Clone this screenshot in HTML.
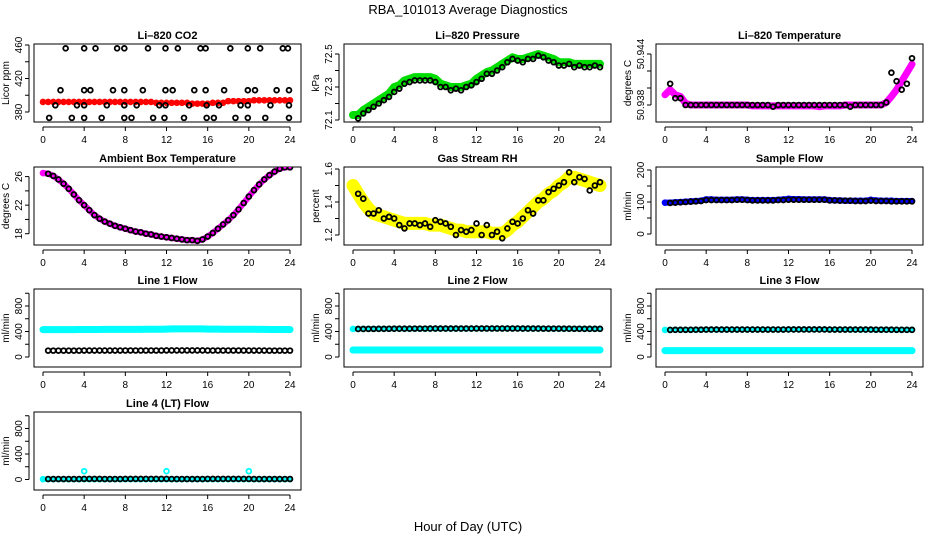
<!DOCTYPE html>
<html><head><meta charset="utf-8">
<style>
html,body{margin:0;padding:0;background:#fff;}
svg{display:block;font-family:"Liberation Sans",Arial,sans-serif;}
</style></head>
<body>
<svg id="chart" width="936" height="540" viewBox="0 0 936 540" xmlns="http://www.w3.org/2000/svg">
<text x="468" y="14" text-anchor="middle" font-size="13">RBA_101013  Average Diagnostics</text>
<text x="468" y="531" text-anchor="middle" font-size="13">Hour of Day (UTC)</text>
</svg>
<script>
// shared time grid: 0..24 step 0.5 (49 points)
const hours = [0,0.5,1,1.5,2,2.5,3,3.5,4,4.5,5,5.5,6,6.5,7,7.5,8,8.5,9,9.5,10,10.5,11,11.5,12,12.5,13,13.5,14,14.5,15,15.5,16,16.5,17,17.5,18,18.5,19,19.5,20,20.5,21,21.5,22,22.5,23,23.5,24];
const xTicks = [0,4,8,12,16,20,24];

// CO2
const co2Red = [392,392,392,392,392,392,392,392,392,392,392,392,392,392,392,392,392,392,392,392,392,392,391,391,391,391,391,391,391,390,390,390,390,391,391,391,393,393,393,393,393,394,394,394,394,394,394,394,394];
const co2Hours = [2.2,4.0,5.1,7.2,7.9,10.2,11.9,13.1,15.3,15.8,18.2,19.9,21.1,23.3,23.8, 1.7,4.0,4.6,6.8,7.9,9.7,11.9,12.6,14.7,15.8,17.6,19.9,20.6,22.7,23.9, 1.2,3.3,4.0,6.2,7.9,9.1,11.3,11.9,14.2,15.9,17.1,19.2,19.9,22.1,23.9, 0.6,2.8,4.0,5.7,7.9,8.6,10.7,11.8,13.7,15.9,16.6,18.7,19.9,21.6,23.9];
const co2Black = [456,456,456,456,456,456,456,456,456,456,456,456,456,456,456, 406,406,406,406,406,406,406,406,406,406,406,406,406,406,406, 388,388,388,388,388,388,388,388,388,388,388,388,388,388,388, 373,373,373,373,373,373,373,373,373,373,373,373,373,373,373];

// Pressure
const presGreen = [72.13,72.13,72.16,72.18,72.2,72.22,72.24,72.26,72.3,72.31,72.34,72.35,72.36,72.36,72.36,72.36,72.35,72.32,72.31,72.3,72.3,72.3,72.31,72.32,72.35,72.37,72.39,72.4,72.42,72.44,72.46,72.48,72.47,72.47,72.48,72.49,72.5,72.49,72.48,72.47,72.45,72.45,72.45,72.44,72.44,72.44,72.44,72.44,72.44];
const presBlack = [72.1,72.11,72.14,72.16,72.18,72.2,72.22,72.24,72.27,72.29,72.32,72.33,72.34,72.34,72.34,72.34,72.33,72.3,72.3,72.28,72.29,72.28,72.3,72.31,72.33,72.35,72.38,72.38,72.4,72.42,72.45,72.47,72.46,72.45,72.47,72.47,72.49,72.48,72.46,72.45,72.43,72.43,72.44,72.42,72.43,72.42,72.42,72.43,72.42];

// Li-820 temperature
const ltMag = [50.9392,50.9398,50.9392,50.939,50.9382,50.938,50.938,50.938,50.938,50.938,50.938,50.938,50.938,50.938,50.938,50.938,50.938,50.9379,50.9379,50.9379,50.9379,50.9379,50.9379,50.9379,50.9379,50.9379,50.9379,50.9379,50.9379,50.9379,50.9378,50.9379,50.9379,50.9379,50.9379,50.938,50.938,50.938,50.938,50.938,50.938,50.938,50.938,50.9383,50.939,50.9398,50.9408,50.9418,50.9428];
const ltBlack = [50.938,50.9405,50.9388,50.9388,50.938,50.938,50.938,50.938,50.938,50.938,50.938,50.938,50.938,50.938,50.938,50.938,50.938,50.938,50.938,50.938,50.938,50.9378,50.938,50.938,50.938,50.938,50.938,50.938,50.938,50.938,50.938,50.938,50.938,50.938,50.938,50.938,50.9378,50.938,50.938,50.938,50.938,50.938,50.938,50.9383,50.9418,50.9408,50.9398,50.9405,50.9435];

// Ambient box temperature
const ambMag = [26.5,26.4,26.1,25.6,25.0,24.3,23.5,22.7,22.0,21.3,20.6,20.1,19.7,19.4,19.1,18.9,18.7,18.5,18.3,18.2,18.0,17.9,17.7,17.6,17.5,17.4,17.3,17.2,17.1,17.1,17.0,17.2,17.6,18.1,18.7,19.3,19.9,20.6,21.4,22.3,23.2,24.1,24.9,25.6,26.2,26.7,27.1,27.3,27.3];
const ambBlack = [26.5,26.4,26.1,25.6,25.0,24.3,23.5,22.7,22.0,21.3,20.6,20.1,19.7,19.4,19.1,18.9,18.7,18.5,18.3,18.2,18.0,17.9,17.7,17.6,17.5,17.4,17.3,17.2,17.1,17.1,17.0,17.2,17.6,18.1,18.7,19.3,19.9,20.6,21.4,22.3,23.2,24.1,24.9,25.6,26.2,26.7,27.1,27.3,27.3];

// Gas stream RH
const rhYel = [1.5,1.45,1.4,1.36,1.33,1.32,1.31,1.3,1.29,1.28,1.27,1.27,1.27,1.27,1.27,1.26,1.26,1.26,1.25,1.24,1.23,1.23,1.22,1.22,1.22,1.22,1.22,1.21,1.21,1.21,1.23,1.26,1.28,1.31,1.34,1.37,1.4,1.42,1.45,1.47,1.5,1.52,1.55,1.55,1.54,1.53,1.52,1.51,1.5];
const rhBlack = [1.52,1.45,1.42,1.33,1.33,1.35,1.3,1.31,1.3,1.26,1.24,1.27,1.27,1.26,1.27,1.25,1.29,1.28,1.27,1.25,1.2,1.23,1.22,1.23,1.27,1.2,1.26,1.2,1.22,1.18,1.24,1.28,1.27,1.3,1.35,1.33,1.41,1.41,1.46,1.48,1.5,1.52,1.58,1.52,1.55,1.54,1.47,1.5,1.52];

// Sample flow
const sfBlue = [98,98,99,100,101,102,103,104,108,108,107,107,107,107,108,108,107,106,106,106,106,106,107,108,110,109,109,108,108,108,108,108,106,105,105,104,104,104,104,104,107,105,104,104,104,103,103,103,103];
const sfBlack = [98,97,98,99,100,101,102,103,106,106,106,106,106,106,107,107,106,105,105,105,105,105,106,106,107,107,107,107,107,107,107,107,105,105,104,104,104,103,103,103,104,103,103,103,102,102,102,102,102];

// Line flows (mL/min)
const l1CyanHi = [430,430,430,430,430,430,430,432,432,432,432,432,433,433,433,433,433,433,433,433,435,435,435,435,438,440,440,440,440,440,440,440,438,438,438,436,436,436,435,435,434,434,433,433,432,432,431,431,430];
const l1Black = [100,100,100,100,100,100,100,100,101,101,101,101,101,101,101,101,102,102,102,102,102,102,102,102,103,103,103,103,103,103,103,103,102,102,102,102,102,102,102,102,101,101,101,101,100,100,100,100,100];
const l2CyanLo = [110,110,110,110,110,110,110,110,110,110,110,110,110,110,110,110,110,110,110,110,110,110,110,110,110,110,110,110,110,110,110,110,110,110,110,110,110,110,110,110,110,110,110,110,110,110,110,110,110];
const l2Black = [440,440,440,441,441,442,442,443,444,444,444,444,445,445,445,446,446,446,446,446,446,446,446,446,447,447,447,447,447,447,447,447,447,446,446,446,446,445,445,445,445,444,444,443,443,442,442,442,442];
const l3CyanLo = [100,100,100,100,100,100,100,100,100,100,100,100,100,100,100,100,100,100,100,100,100,100,100,100,100,100,100,100,100,100,100,100,100,100,100,100,100,100,100,100,100,100,100,100,100,100,100,100,100];
const l3Black = [425,425,426,426,427,427,428,428,430,430,430,430,431,431,431,431,431,431,431,431,431,431,431,431,432,432,432,432,432,432,432,432,431,431,431,431,430,430,430,430,430,429,429,428,428,427,427,426,426];
const l4Cyan = [5,5,5,5,5,5,5,5,5,5,5,5,5,5,5,5,5,5,5,5,5,5,5,5,5,5,5,5,5,5,5,5,5,5,5,5,5,5,5,5,5,5,5,5,5,5,5,5,5];
const l4Black = [8,8,8,8,8,8,8,8,10,10,10,10,8,8,8,8,10,10,10,10,10,10,10,10,10,8,8,8,8,8,8,8,10,10,10,10,10,10,10,10,10,8,8,8,8,8,8,8,8];
const l4OutlierHours = [4,12,20];
const l4Outliers = [130,130,130];

const NS = 'http://www.w3.org/2000/svg';
const svg = document.getElementById('chart');
function mk(tag, attrs, parent){ const e=document.createElementNS(NS,tag); for(const k in attrs) e.setAttribute(k,attrs[k]); (parent||svg).appendChild(e); return e; }

const colLeft=[34,344,656], rowTop=[44,167,289,412], BW=267, BH=78;

function panel(cfg){
  const L=colLeft[cfg.col], T=rowTop[cfg.row];
  const g = mk('g',{});
  
  
  const xs = h => L+9+h*(247/24);
  const ys = v => cfg.y0px + (v-cfg.y0)*(cfg.y1px-cfg.y0px)/(cfg.y1-cfg.y0);
  const t = mk('text',{x:L+BW/2,y:T-5,'text-anchor':'middle','font-size':11,'font-weight':'bold'},g);
  t.textContent = cfg.title;
  
  
  const box = mk('rect',{x:L,y:T,width:BW,height:BH,fill:'none',stroke:'#000','stroke-width':1},g);
  
  
  const xa = mk('g',{},g);
  
  
  mk('line',{x1:xs(0),x2:xs(24),y1:T+BH+5,y2:T+BH+5,stroke:'#000'},xa);
  xTicks.forEach(v=>{
    mk('line',{x1:xs(v),x2:xs(v),y1:T+BH+5,y2:T+BH+9,stroke:'#000'},xa);
    const tx = mk('text',{x:xs(v),y:T+BH+21,'text-anchor':'middle','font-size':10},xa);
    tx.textContent = v;
    
    
  });
  const ya = mk('g',{},g);
  
  
  const tk = cfg.ticks;
  mk('line',{x1:L-5,x2:L-5,y1:ys(tk[0]),y2:ys(tk[tk.length-1]),stroke:'#000'},ya);
  tk.forEach(v=>{ mk('line',{x1:L-9,x2:L-5,y1:ys(v),y2:ys(v),stroke:'#000'},ya); });
  cfg.labels.forEach(v=>{
    const yy=ys(v);
    const tx = mk('text',{x:L-12,y:yy,'text-anchor':'middle','font-size':10,transform:`rotate(-90 ${L-12} ${yy})`},ya);
    tx.textContent = cfg.fmt ? cfg.fmt(v) : v;
    
    
  });
  const yl = mk('text',{x:L-25,y:T+BH/2,'text-anchor':'middle','font-size':10,transform:`rotate(-90 ${L-25} ${T+BH/2})`},g);
  yl.textContent = cfg.ylab;
  
  
  const clip = 'clip'+cfg.name;
  const cp = mk('clipPath',{id:clip},g); mk('rect',{x:L,y:T,width:BW,height:BH},cp);
  const pg = mk('g',{'clip-path':`url(#${clip})`},g);
  (cfg.bands||[]).forEach(b=>{
    const pts = b.vals.map((v,i)=>xs(hours[i]).toFixed(1)+','+ys(v).toFixed(1)).join(' ');
    const pl = mk('polyline',{points:pts,fill:'none',stroke:b.color,'stroke-width':b.w,'stroke-linejoin':'round','stroke-linecap':'round'},pg);
    
    
    b.vals.forEach((v,i)=>{
      const c = mk('circle',{cx:xs(hours[i]),cy:ys(v),r:2.6,fill:'none',stroke:b.color,'stroke-width':1.4},pg);
      
      
    });
  });
  (cfg.points||[]).forEach(p=>{
    p.vals.forEach((v,i)=>{
      const h = p.hours ? p.hours[i] : hours[i];
      if(p.skipFirst && i===0) return;
      const c = mk('circle',{cx:xs(h),cy:ys(v),r:2.4,fill:'none',stroke:p.color,'stroke-width':1.8},pg);
      
      
    });
  });
}

panel({name:'co2-panel',title:'Li\u2013820 CO2',col:0,row:0,ylab:'Licor ppm',y0:380,y0px:112,y1:460,y1px:45,ticks:[380,400,420,440,460],labels:[380,420,460],
  bands:[{name:'co2-red-series',vals:co2Red,color:'#ff0000',w:4}],
  points:[{name:'co2-black-point',vals:co2Black,hours:co2Hours,color:'#000'}]});
panel({name:'pressure-panel',title:'Li\u2013820 Pressure',col:1,row:0,ylab:'kPa',y0:72.1,y0px:120,y1:72.5,y1px:54,ticks:[72.1,72.2,72.3,72.4,72.5],labels:[72.1,72.3,72.5],fmt:v=>v.toFixed(1),
  bands:[{name:'pressure-green-series',vals:presGreen,color:'#00dd00',w:8}],
  points:[{name:'pressure-black-point',vals:presBlack,color:'#000',skipFirst:true}]});
panel({name:'li820-temp-panel',title:'Li\u2013820 Temperature',col:2,row:0,ylab:'degrees C',y0:50.938,y0px:105,y1:50.944,y1px:54,ticks:[50.938,50.94,50.942,50.944],labels:[50.938,50.944],fmt:v=>v.toFixed(3),
  bands:[{name:'li820-temp-magenta-series',vals:ltMag,color:'#ff00ff',w:7}],
  points:[{name:'li820-temp-black-point',vals:ltBlack,color:'#000',skipFirst:true}]});
panel({name:'ambient-temp-panel',title:'Ambient Box Temperature',col:0,row:1,ylab:'degrees C',y0:18,y0px:233.7,y1:26,y1px:176.6,ticks:[18,20,22,24,26],labels:[18,22,26],
  bands:[{name:'ambient-magenta-series',vals:ambMag,color:'#ff00ff',w:6}],
  points:[{name:'ambient-black-point',vals:ambBlack,color:'#000',skipFirst:true}]});
panel({name:'rh-panel',title:'Gas Stream RH',col:1,row:1,ylab:'percent',y0:1.2,y0px:235,y1:1.6,y1px:169,ticks:[1.2,1.3,1.4,1.5,1.6],labels:[1.2,1.4,1.6],fmt:v=>v.toFixed(1),
  bands:[{name:'rh-yellow-series',vals:rhYel,color:'#ffff00',w:13}],
  points:[{name:'rh-black-point',vals:rhBlack,color:'#000',skipFirst:true}]});
panel({name:'sample-flow-panel',title:'Sample Flow',col:2,row:1,ylab:'ml/min',y0:0,y0px:234,y1:200,y1px:170,ticks:[0,50,100,150,200],labels:[0,100,200],
  bands:[{name:'sample-flow-blue-series',vals:sfBlue,color:'#0000ff',w:6}],
  points:[{name:'sample-flow-black-point',vals:sfBlack,color:'#000',skipFirst:true}]});
panel({name:'line1-flow-panel',title:'Line 1 Flow',col:0,row:2,ylab:'ml/min',y0:0,y0px:357,y1:800,y1px:306,ticks:[0,200,400,600,800,1000],labels:[0,400,800],
  bands:[{name:'line1-cyan-series',vals:l1CyanHi,color:'#00ffff',w:7}],
  points:[{name:'line1-black-point',vals:l1Black,color:'#000',skipFirst:true}]});
panel({name:'line2-flow-panel',title:'Line 2 Flow',col:1,row:2,ylab:'ml/min',y0:0,y0px:357,y1:800,y1px:306,ticks:[0,200,400,600,800,1000],labels:[0,400,800],
  bands:[{name:'line2-cyan-low-series',vals:l2CyanLo,color:'#00ffff',w:7},{name:'line2-cyan-high-series',vals:l2Black,color:'#00ffff',w:5}],
  points:[{name:'line2-black-point',vals:l2Black,color:'#000',skipFirst:true}]});
panel({name:'line3-flow-panel',title:'Line 3 Flow',col:2,row:2,ylab:'ml/min',y0:0,y0px:357,y1:800,y1px:306,ticks:[0,200,400,600,800,1000],labels:[0,400,800],
  bands:[{name:'line3-cyan-low-series',vals:l3CyanLo,color:'#00ffff',w:7},{name:'line3-cyan-high-series',vals:l3Black,color:'#00ffff',w:5}],
  points:[{name:'line3-black-point',vals:l3Black,color:'#000',skipFirst:true}]});
panel({name:'line4-flow-panel',title:'Line 4 (LT) Flow',col:0,row:3,ylab:'ml/min',y0:0,y0px:479.5,y1:800,y1px:428.5,ticks:[0,200,400,600,800,1000],labels:[0,400,800],
  bands:[{name:'line4-cyan-series',vals:l4Cyan,color:'#00ffff',w:5}],
  points:[{name:'line4-black-point',vals:l4Black,color:'#000',skipFirst:true},{name:'line4-cyan-outlier',vals:l4Outliers,hours:l4OutlierHours,color:'#00ffff'}]});
</script>
</body></html>
